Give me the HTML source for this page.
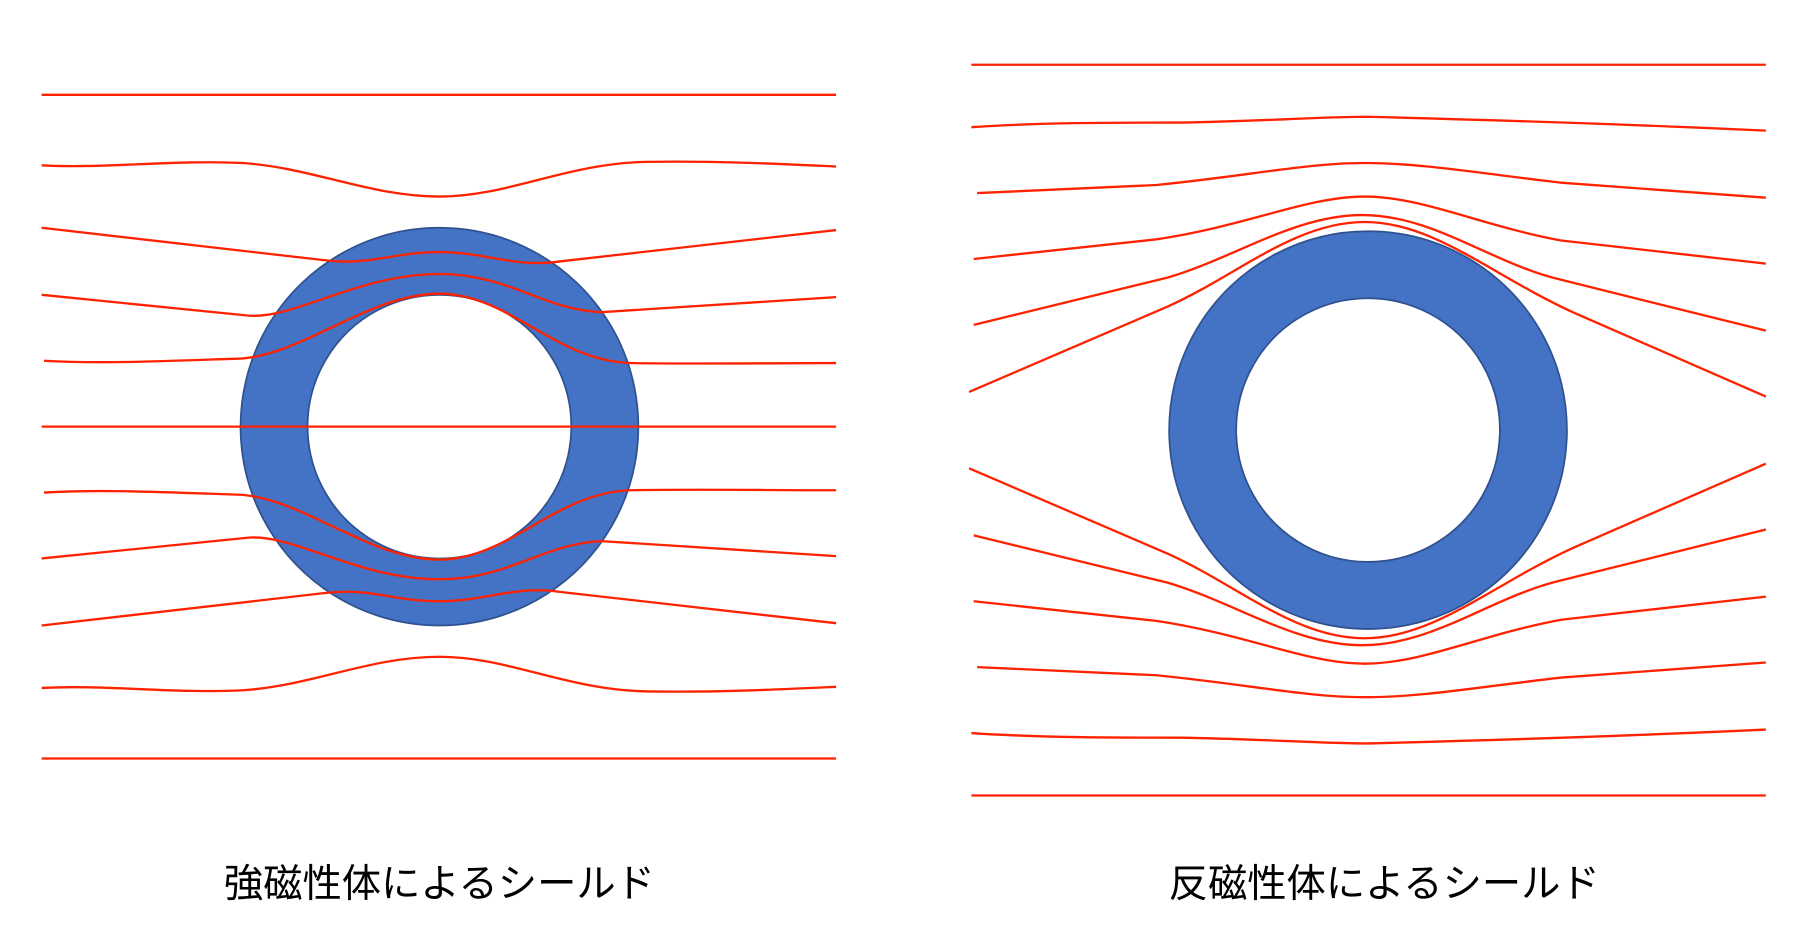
<!DOCTYPE html>
<html><head><meta charset="utf-8"><style>
html,body{margin:0;padding:0;background:#fff;}
svg{display:block;}
</style></head><body>
<svg width="1804" height="940" viewBox="0 0 1560 813" preserveAspectRatio="none" xmlns="http://www.w3.org/2000/svg">
<rect width="1560" height="813" fill="#fff"/>
<!-- LEFT -->
<path d="M380,197 a172,172 0 1,0 0.01,0 Z M380,255 a114,114 0 1,1 -0.01,0 Z" fill="#4472C4" fill-rule="evenodd" stroke="#2F528F" stroke-width="1.5"/>
<g fill="none" stroke="#FF2200" stroke-width="2">
<g id="lt">
<path d="M36,82 L723,82"/>
<path d="M36,143 C90,146 150,138 210,141 C270,145 320,170 380,170 C440,170 490,141 560,140 C620,139 680,142 723,144"/>
<path d="M36,197 L280,225 C320,230 340,218 380,218 C420,218 445,232 485,226 L723,199"/>
<path d="M36,255 L215,273 C255,276 310,237 380,237 C440,237 470,268 520,270 L723,257"/>
<path d="M38,312 C90,315 150,312 210,310 C265,305 320,254 380,254 C440,254 480,312 545,314 C600,315 660,314 723,314"/>
</g>
<use href="#lt" transform="matrix(1,0,0,-1,0,738)"/>
<path d="M36,369 L723,369"/>
</g>
<!-- RIGHT -->
<path d="M1183,200 a172,172 0 1,0 0.01,0 Z M1183,258 a114,114 0 1,1 -0.01,0 Z" fill="#4472C4" fill-rule="evenodd" stroke="#2F528F" stroke-width="1.5"/>
<g fill="none" stroke="#FF2200" stroke-width="2">
<g id="rt">
<path d="M840,56 L1527,56"/>
<path d="M840,110 C900,106 960,106 1020,106 C1090,105 1140,101 1183,101 C1300,104 1420,108 1527,113"/>
<path d="M845,167 L1000,160 C1080,152 1130,141 1180,141 C1230,141 1280,150 1350,158 L1527,171"/>
<path d="M842,224 L1000,207 C1080,195 1130,170 1180,170 C1230,170 1280,195 1350,208 L1527,228"/>
<path d="M842,281 L1010,240 C1070,222 1120,186 1178,186 C1240,186 1290,228 1350,242 L1527,286"/>
<path d="M838,339 L1010,265 C1070,238 1120,192 1180,192 C1240,192 1290,238 1360,270 L1527,343"/>
</g>
<use href="#rt" transform="matrix(1,0,0,-1,0,744)"/>
</g>
<g font-family="Liberation Sans, Noto Sans CJK JP, sans-serif" font-size="34" fill="#000" text-anchor="middle">
<text x="380" y="776">強磁性体によるシールド</text>
<text x="1197" y="776">反磁性体によるシールド</text>
</g>
</svg>
</body></html>
